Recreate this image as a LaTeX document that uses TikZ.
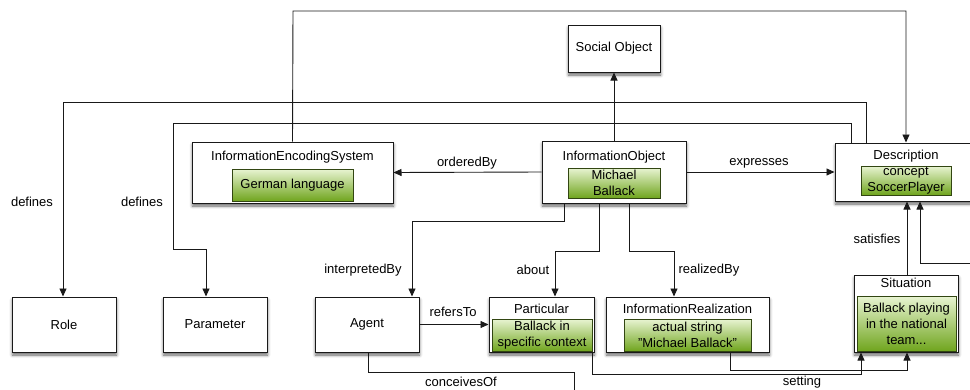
\documentclass[tikz,border=0pt]{standalone}
\usepackage{fontspec}
\setmainfont{Liberation Sans}
\usetikzlibrary{arrows.meta,shadows.blur}

\definecolor{gtop}{RGB}{232,244,210}
\definecolor{gbot}{RGB}{112,165,30}
\definecolor{gedge}{RGB}{50,70,18}
\definecolor{ink}{RGB}{25,25,25}

\tikzset{
  box/.style={draw=ink, line width=1pt, fill=white, inner sep=0pt,
    blur shadow={shadow xshift=0.5pt, shadow yshift=-3pt,
                 shadow blur radius=3pt, shadow opacity=60}},
  inst/.style={draw=gedge, line width=0.8pt, top color=gtop, bottom color=gbot,
    inner sep=0pt, align=center},
  ttl/.style={inner sep=0pt},
  lbl/.style={inner sep=0pt},
  link/.style={draw=ink, line width=0.9pt, -{Triangle[length=8pt,width=7pt]}},
}

\begin{document}
\begin{tikzpicture}[x=1pt, y=-1pt, font=\fontsize{13}{16}\selectfont]
\clip (0,0) rectangle (970,389);

% ---- classes and their instances ----
\node[box, minimum width=92pt, minimum height=47pt] (socobj) at (614,48.5) {Social Object};

\node[box, minimum width=201pt, minimum height=61pt] (ies) at (292.5,172.5) {};
\node[ttl] (iesT) at (292.5,157.5) {InformationEncodingSystem};
\node[inst, minimum width=121pt, minimum height=32pt] (iesI) at (292.5,185) {German language};

\node[box, minimum width=144pt, minimum height=62pt] (io) at (614,172) {};
\node[ttl] (ioT) at (614,157) {InformationObject};
\node[inst, minimum width=92pt, minimum height=30pt] (ioI) at (614,183) {Michael\\Ballack};

\node[box, minimum width=155pt, minimum height=58pt] (desc) at (912.5,172) {};
\node[ttl] (descT) at (906,156) {Description};
\node[inst, minimum width=90pt, minimum height=29pt] (descI) at (906,180.5) {concept\\SoccerPlayer};

\node[box, minimum width=104pt, minimum height=55pt] (role) at (64,324.5) {Role};
\node[box, minimum width=104pt, minimum height=55pt] (param) at (215,324.5) {Parameter};
\node[box, minimum width=104pt, minimum height=55pt] (agent) at (367,324.5) {Agent};

\node[box, minimum width=105pt, minimum height=55pt] (part) at (541.5,324.5) {};
\node[ttl] (partT) at (541.5,309) {Particular};
\node[inst, minimum width=100pt, minimum height=32pt] (partI) at (542,335) {Ballack in\\specific context};

\node[box, minimum width=163pt, minimum height=55pt] (ir) at (687.5,324.5) {};
\node[ttl] (irT) at (687.5,309) {InformationRealization};
\node[inst, minimum width=127pt, minimum height=32pt] (irI) at (687.5,335) {actual string\\"Michael Ballack"};

\node[box, minimum width=104pt, minimum height=77pt] (sit) at (906,313.5) {};
\node[ttl] (sitT) at (906,283) {Situation};
\node[inst, minimum width=99pt, minimum height=55pt] (sitI) at (906.5,323.5) {Ballack playing\\in the national\\team...};

% ---- free ends leaving the drawing area ----
\coordinate (cOut) at (574,395);
\coordinate (rIn) at (980,263);

% ---- relations ----
\draw[link] (io.north) -- (socobj.south);
\draw[link] (io.west) -- (ies.east);
\node[lbl] (lOrd) at (467,163) {orderedBy};
\draw[link] (io.east) -- (desc.west);
\node[lbl] (lExp) at (759,163) {expresses};

\draw[link] (ies.north) -- (293,11) -- (906,11) -- (906,0 |- desc.north);

\draw[link] (866,0 |- desc.north) -- (866,102) -- (63,102) -- (63,0 |- role.north);
\node[lbl] (lDef1) at (32,202) {defines};
\draw[link] (851,0 |- desc.north) -- (851,123) -- (173,123) -- (173,249) -- (206,249) -- (206,0 |- param.north);
\node[lbl] (lDef2) at (142,202) {defines};

\draw[link] (564,0 |- io.south) -- (564,221) -- (412,221) -- (412,0 |- agent.north);
\node[lbl] (lInt) at (363,270) {interpretedBy};
\draw[link] (599,0 |- io.south) -- (599,251) -- (555,251) -- (555,0 |- part.north);
\node[lbl] (lAbout) at (533,270) {about};
\draw[link] (629,0 |- io.south) -- (629,251) -- (674,251) -- (674,0 |- ir.north);
\node[lbl] (lReal) at (709,270) {realizedBy};

\draw[link] (agent.east) -- (part.west);
\node[lbl] (lRef) at (453,312) {refersTo};

\draw[draw=ink, line width=0.9pt] (368,0 |- agent.south) -- (368,372) -- (574,372) -- (cOut);
\node[lbl] (lConc) at (461,382) {conceivesOf};

\draw[link] (592,0 |- part.south) -- (592,374) -- (861,374) -- (861,0 |- sit.south);
\draw[link] (730,0 |- ir.south) -- (730,370) -- (907,370) -- (907,0 |- sit.south);
\node[lbl] (lSet) at (802,382) {setting};

\draw[link] (907,0 |- sit.north) -- (907,0 |- desc.south);
\node[lbl] (lSat) at (877,239) {satisfies};
\draw[link] (rIn) -- (920,263) -- (920,0 |- desc.south);
\end{tikzpicture}
\end{document}
